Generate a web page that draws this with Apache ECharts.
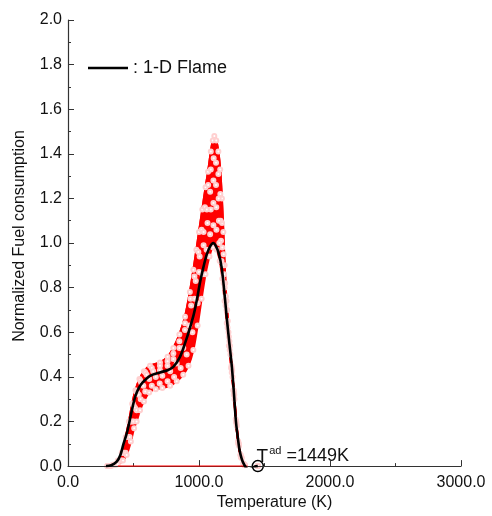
<!DOCTYPE html>
<html>
<head>
<meta charset="utf-8">
<script src="https://cdn.jsdelivr.net/npm/echarts@6/dist/echarts.min.js"></script>
<style>
html,body{margin:0;padding:0;background:#fff;}
#chart{width:492px;height:516px;}
</style>
</head>
<body>
<div id="chart"></div>
<script>
// ---- data (Temperature K, normalized fuel consumption) ----
var flame1D = [[290,0],[330,0.004],[372,0.02],[400,0.05],[422,0.096],[450,0.15],[473,0.21],[495,0.27],[515,0.315],[540,0.35],[570,0.375],[626,0.405],[702,0.42],[760,0.43],[804,0.445],[855,0.49],[893,0.55],[931,0.62],[960,0.68],[982,0.74],[1010,0.83],[1033,0.89],[1060,0.95],[1085,0.985],[1109,1.0],[1130,0.985],[1150,0.955],[1173,0.89],[1192,0.79],[1211,0.67],[1230,0.56],[1250,0.45],[1265,0.34],[1282,0.2],[1298,0.12],[1310,0.07],[1325,0.035],[1340,0.012],[1360,-0.008],[1378,-0.015],[1400,-0.011],[1425,-0.003],[1449,0]];

var redCase1 = [[300,0],[340,0.006],[380,0.025],[410,0.06],[440,0.13],[465,0.2],[490,0.28],[515,0.34],[545,0.39],[580,0.425],[626,0.45],[702,0.465],[760,0.49],[804,0.53],[850,0.59],[893,0.67],[930,0.78],[957,0.88],[980,0.97],[1000,1.05],[1025,1.15],[1050,1.25],[1069,1.32],[1090,1.41],[1105,1.46],[1117,1.48],[1132,1.46],[1148,1.41],[1162,1.33],[1175,1.2],[1186,1.05],[1196,0.9],[1210,0.74],[1228,0.58],[1248,0.45],[1265,0.34],[1282,0.2],[1300,0.1],[1320,0.04],[1345,0.005],[1370,-0.012],[1400,-0.01],[1430,-0.002],[1449,0]];
var redCase2 = [[300,0],[345,0.006],[385,0.025],[415,0.06],[445,0.13],[470,0.2],[495,0.28],[520,0.335],[550,0.385],[590,0.42],[640,0.44],[702,0.45],[760,0.47],[804,0.505],[850,0.56],[893,0.64],[935,0.75],[965,0.85],[995,0.96],[1020,1.06],[1045,1.16],[1070,1.26],[1090,1.33],[1112,1.38],[1130,1.36],[1148,1.31],[1163,1.22],[1176,1.09],[1188,0.95],[1200,0.82],[1215,0.7],[1232,0.56],[1250,0.44],[1267,0.33],[1284,0.2],[1302,0.1],[1322,0.04],[1347,0.005],[1372,-0.012],[1402,-0.01],[1432,-0.002],[1449,0]];
var redCase3 = [[305,0],[350,0.006],[390,0.025],[420,0.06],[450,0.13],[478,0.2],[502,0.27],[528,0.33],[558,0.375],[600,0.41],[650,0.425],[702,0.43],[760,0.45],[804,0.48],[850,0.53],[893,0.61],[940,0.72],[975,0.83],[1005,0.94],[1035,1.05],[1060,1.15],[1085,1.23],[1110,1.28],[1130,1.26],[1150,1.2],[1165,1.1],[1178,0.98],[1192,0.86],[1205,0.76],[1220,0.65],[1236,0.54],[1253,0.43],[1269,0.32],[1286,0.19],[1304,0.1],[1324,0.04],[1349,0.005],[1374,-0.012],[1404,-0.01],[1434,-0.002],[1449,0]];
var redCase4 = [[310,0],[355,0.006],[398,0.025],[428,0.06],[458,0.13],[488,0.2],[512,0.26],[540,0.32],[575,0.36],[620,0.39],[670,0.4],[720,0.405],[780,0.425],[830,0.46],[880,0.53],[925,0.63],[965,0.75],[1000,0.87],[1035,0.99],[1065,1.09],[1090,1.15],[1110,1.18],[1132,1.16],[1152,1.1],[1168,1.01],[1182,0.9],[1196,0.8],[1210,0.7],[1225,0.6],[1240,0.5],[1256,0.4],[1271,0.3],[1288,0.18],[1306,0.09],[1326,0.035],[1351,0.004],[1376,-0.012],[1406,-0.01],[1436,-0.002],[1449,0]];
var redCase5 = [[320,0],[365,0.006],[408,0.025],[440,0.06],[470,0.13],[500,0.2],[524,0.25],[555,0.3],[590,0.335],[640,0.36],[700,0.37],[760,0.38],[810,0.4],[860,0.44],[906,0.5],[950,0.6],[990,0.73],[1025,0.86],[1058,0.97],[1085,1.04],[1110,1.08],[1133,1.06],[1155,1.0],[1172,0.92],[1188,0.82],[1203,0.72],[1218,0.62],[1234,0.52],[1250,0.42],[1266,0.32],[1283,0.2],[1300,0.11],[1318,0.05],[1340,0.012],[1365,-0.006],[1385,-0.014],[1410,-0.009],[1438,-0.002],[1449,0]];
var redCase6 = [[330,0],[380,0.008],[420,0.025],[448,0.05],[480,0.11],[505,0.17],[524,0.2],[550,0.25],[580,0.29],[620,0.33],[670,0.345],[720,0.35],[780,0.36],[830,0.38],[880,0.41],[920,0.45],[957,0.52],[990,0.63],[1020,0.75],[1050,0.86],[1080,0.94],[1108,0.98],[1135,0.97],[1158,0.92],[1178,0.84],[1195,0.74],[1212,0.64],[1228,0.54],[1245,0.44],[1262,0.34],[1280,0.21],[1298,0.11],[1316,0.05],[1338,0.012],[1362,-0.006],[1385,-0.015],[1410,-0.01],[1438,-0.002],[1449,0]];
var redBaseline = [[380,0],[1370,0]];

var adiabaticT = 1449;
var xTicks = [0, 1000, 2000, 3000];
var yTicks = [0, 0.2, 0.4, 0.6, 0.8, 1.0, 1.2, 1.4, 1.6, 1.8, 2.0];

var FONT = '"Liberation Sans", Arial, Helvetica, sans-serif';
var RED = '#ff0000';
var redCases = [redCase1, redCase2, redCase3, redCase4, redCase5, redCase6];

var series = [];
// band of the red cases: filled under the highest case, cleared under the lowest
series.push({
  name: 'band', type: 'line', data: redCase1, smooth: 0.3, showSymbol: false,
  lineStyle: { color: RED, width: 2 }, areaStyle: { color: RED, opacity: 1 },
  silent: true, z: 1
});
series.push({
  name: 'bandClear', type: 'line', data: redCase6, smooth: 0.3, showSymbol: false,
  lineStyle: { width: 0, opacity: 0 }, areaStyle: { color: '#fff', opacity: 1 },
  silent: true, z: 1
});
redCases.forEach(function (d, i) {
  series.push({
    name: 'Case ' + (i + 1), type: 'line', data: d, smooth: 0.3,
    symbol: 'emptyCircle', symbolSize: 4, showSymbol: true,
    itemStyle: { color: '#ffd0d0', borderColor: RED, borderWidth: 1 },
    lineStyle: { color: RED, width: 2 }, z: 2, silent: true
  });
});
series.push({
  name: 'baseline', type: 'line', data: redBaseline, showSymbol: false,
  lineStyle: { color: RED, width: 1.4 }, silent: true, z: 8
});
series.push({
  name: '1-D Flame', type: 'line', data: flame1D, smooth: 0.3,
  showSymbol: false, symbol: 'none',
  lineStyle: { color: '#000', width: 2.6 }, itemStyle: { color: '#000' }, z: 9,
  markPoint: {
    symbol: 'circle', symbolSize: 11,
    itemStyle: { color: 'rgba(0,0,0,0)', borderColor: '#000', borderWidth: 1.5 },
    data: [{
      coord: [adiabaticT, 0],
      label: {
        show: true, position: [5, -14],
        formatter: '{t|T}{s|ad}{e| =' + adiabaticT + 'K}',
        rich: {
          t: { fontSize: 19, color: '#111', fontFamily: FONT },
          s: { fontSize: 11, color: '#111', fontFamily: FONT, verticalAlign: 'top', padding: [0, 0, 10, 1] },
          e: { fontSize: 18, color: '#111', fontFamily: FONT }
        }
      }
    }]
  }
});

var chart = echarts.init(document.getElementById('chart'), null, { renderer: 'canvas' });
chart.setOption({
  animation: false,
  backgroundColor: '#fff',
  grid: { left: 68, right: 31, top: 20, bottom: 41, containLabel: false },
  legend: {
    data: [{ name: '1-D Flame', icon: 'rect' }],
    left: 88, top: 59, padding: 0, itemWidth: 40, itemHeight: 2.5, itemGap: 5,
    formatter: ': {name}',
    textStyle: { fontSize: 18, color: '#111', fontFamily: FONT }
  },
  xAxis: {
    type: 'value', min: 0, max: 3000, interval: 1000, z: 6,
    name: 'Temperature (K)', nameLocation: 'middle', nameGap: 27,
    nameTextStyle: { fontSize: 16, color: '#111', fontFamily: FONT, padding: [0, 0, 0, 20] },
    axisLine: { show: true, lineStyle: { color: '#333', width: 1.2 } },
    axisTick: { show: true, inside: true, length: 6, lineStyle: { color: '#333' } },
    minorTick: { show: true, splitNumber: 2, length: 3, lineStyle: { color: '#333' } },
    axisLabel: { fontSize: 16, color: '#111', fontFamily: FONT, margin: 8,
      formatter: function (v) { return xTicks.indexOf(v) >= 0 ? v.toFixed(1) : ''; } },
    splitLine: { show: false }
  },
  yAxis: {
    type: 'value', min: 0, max: 2, interval: 0.2, z: 6,
    name: 'Normalized Fuel consumption', nameLocation: 'middle', nameGap: 40,
    nameTextStyle: { fontSize: 16, color: '#111', fontFamily: FONT, padding: [0, 0, 0, 14] },
    axisLine: { show: true, onZero: false, lineStyle: { color: '#333', width: 1.2 } },
    axisTick: { show: true, inside: true, length: 6, lineStyle: { color: '#333' } },
    minorTick: { show: true, splitNumber: 2, length: 3, lineStyle: { color: '#333' } },
    axisLabel: { fontSize: 16, color: '#111', fontFamily: FONT, margin: 6,
      formatter: function (v) { return v.toFixed(1); } },
    splitLine: { show: false }
  },
  series: series
});
</script>
</body>
</html>
